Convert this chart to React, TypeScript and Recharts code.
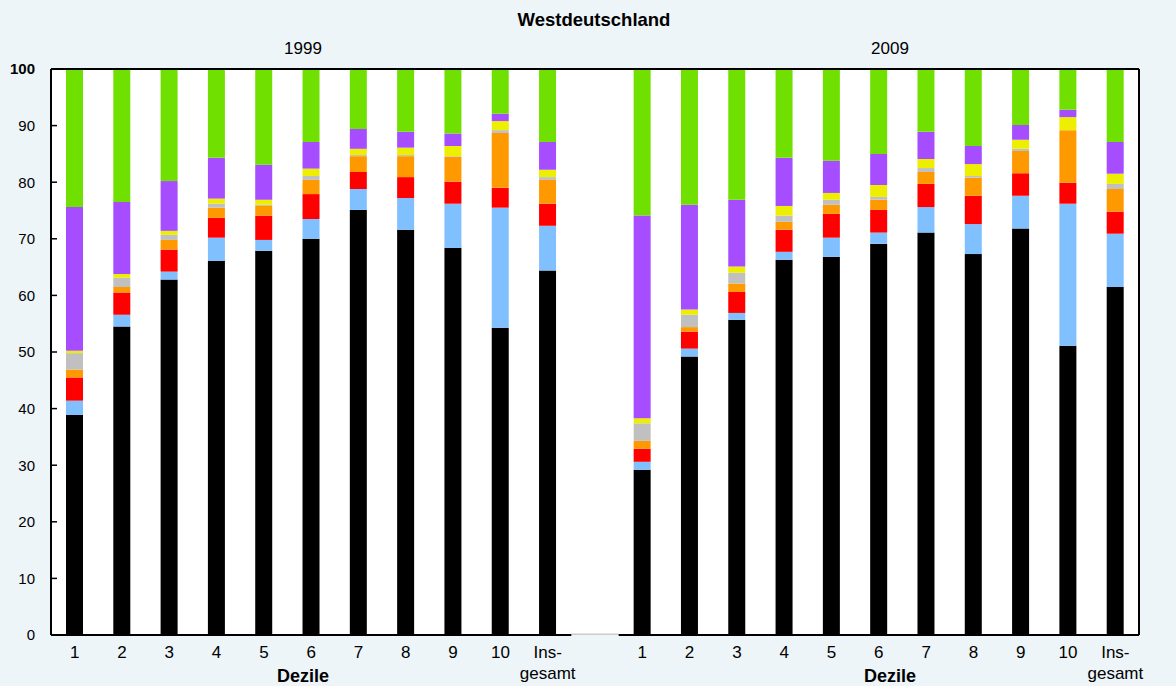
import React from 'react';
import { BarChart, Bar, XAxis, YAxis, CartesianGrid, ReferenceLine, ReferenceArea } from 'recharts';

const FONT = '"Liberation Sans", Arial, sans-serif';
const BG = '#edf5f9';

const years = ['1999', '2009'];
const deciles = ['1', '2', '3', '4', '5', '6', '7', '8', '9', '10', 'Ins-gesamt'];
const yTicks = [0, 10, 20, 30, 40, 50, 60, 70, 80, 90, 100];

// Anteile in %, erst die 11 Werte für 1999, dann die 11 für 2009
const black = [38.9, 54.5, 62.8, 66.1, 67.9, 70.0, 75.1, 71.6, 68.4, 54.3, 64.4,
  29.2, 49.2, 55.7, 66.3, 66.8, 69.1, 71.1, 67.3, 71.8, 51.1, 61.5];
const lightBlue = [2.5, 2.1, 1.4, 4.1, 1.9, 3.5, 3.7, 5.6, 7.8, 21.2, 7.9,
  1.4, 1.4, 1.2, 1.4, 3.4, 2.0, 4.5, 5.3, 5.8, 25.1, 9.4];
const red = [4.1, 3.9, 3.9, 3.5, 4.3, 4.4, 3.0, 3.7, 3.9, 3.5, 3.9,
  2.3, 3.0, 3.7, 3.9, 4.2, 4.0, 4.1, 5.0, 4.0, 3.7, 3.9];
const orange = [1.4, 1.0, 1.7, 1.8, 1.7, 2.5, 2.8, 3.7, 4.4, 9.7, 4.2,
  1.4, 0.8, 1.5, 1.4, 1.6, 1.8, 2.1, 3.2, 3.9, 9.3, 4.0];
const gray = [2.9, 1.6, 0.9, 0.7, 0.2, 0.7, 0.2, 0.2, 0.1, 0.5, 0.5,
  3.1, 2.2, 1.9, 1.1, 0.9, 0.5, 0.7, 0.3, 0.4, 0.0, 0.9];
const yellow = [0.4, 0.7, 0.7, 0.9, 0.9, 1.3, 1.1, 1.3, 1.8, 1.6, 1.3,
  0.9, 0.9, 1.1, 1.7, 1.2, 2.1, 1.6, 2.1, 1.6, 2.3, 1.8];
const purple = [25.4, 12.7, 8.8, 7.2, 6.2, 4.7, 3.5, 2.8, 2.2, 1.3, 4.9,
  35.8, 18.5, 11.8, 8.5, 5.7, 5.5, 4.8, 3.2, 2.6, 1.3, 5.6];
const green = [24.4, 23.5, 19.8, 15.7, 16.9, 12.9, 10.6, 11.1, 11.4, 7.9, 12.9,
  25.9, 24.0, 23.1, 15.7, 16.2, 15.0, 11.1, 13.6, 9.9, 7.2, 12.9];

const series = [
  { key: 'black', values: black, color: '#000000' },
  { key: 'lightBlue', values: lightBlue, color: '#80c0ff' },
  { key: 'red', values: red, color: '#ff0000' },
  { key: 'orange', values: orange, color: '#ff9900' },
  { key: 'gray', values: gray, color: '#c0c0c0' },
  { key: 'yellow', values: yellow, color: '#eeee00' },
  { key: 'purple', values: purple, color: '#a64dff' },
  { key: 'green', values: green, color: '#70e000' },
];

const labelByKey: Record<string, string> = { gap: '' };
const data: Record<string, any>[] = [];
years.forEach((year, yi) => {
  if (yi > 0) data.push({ key: 'gap' });
  deciles.forEach((d, di) => {
    const key = `${year}|${d}`;
    labelByKey[key] = d;
    const row: Record<string, any> = { key };
    series.forEach((s) => {
      row[s.key] = s.values[yi * deciles.length + di];
    });
    data.push(row);
  });
});

const firstKey = data[0].key;
const lastKey = data[data.length - 1].key;

function XTick({ x, y, payload }: any) {
  const label = labelByKey[payload.value] ?? '';
  if (label === 'Ins-gesamt') {
    return (
      <text x={x} y={y} textAnchor="middle" fontSize={17} fill="#000" fontFamily={FONT}>
        <tspan x={x} dy={15}>Ins-</tspan>
        <tspan x={x} dy={21}>gesamt</tspan>
      </text>
    );
  }
  return (
    <text x={x} y={y} dy={15} textAnchor="middle" fontSize={17} fill="#000" fontFamily={FONT}>
      {label}
    </text>
  );
}

function LeftTick({ x, y, payload }: any) {
  return (
    <g>
      <line x1={x + 16} x2={x + 22} y1={y} y2={y} stroke="#000" strokeWidth={1.5} />
      <text x={x} y={y} dy="0.36em" textAnchor="end" fontSize={15} fill="#000" fontFamily={FONT}
        fontWeight={payload.value === 100 ? 'bold' : 'normal'}>
        {payload.value}
      </text>
    </g>
  );
}

function RightTick({ x, y, payload }: any) {
  return (
    <g>
      <line x1={x - 22} x2={x - 16} y1={y} y2={y} stroke="#000" strokeWidth={1.5} />
      <text x={x} y={y} dy="0.36em" textAnchor="start" fontSize={15} fill="#000" fontFamily={FONT}
        fontWeight={payload.value === 100 ? 'bold' : 'normal'}>
        {payload.value}
      </text>
    </g>
  );
}

function Caption({ x, y, text, bold = false, size = 17 }: { x: number; y: number; text: string; bold?: boolean; size?: number }) {
  return (
    <div
      style={{
        position: 'absolute',
        left: x,
        top: y - size / 2,
        transform: 'translateX(-50%)',
        fontFamily: FONT,
        fontSize: size,
        lineHeight: `${size}px`,
        fontWeight: bold ? 'bold' : 'normal',
        whiteSpace: 'nowrap',
        color: '#000',
      }}
    >
      {text}
    </div>
  );
}

export default function App() {
  return (
    <div style={{ position: 'absolute', left: 0, top: 0, width: 1176, height: 686, background: BG, overflow: 'hidden' }}>
      <BarChart
        width={1176}
        height={686}
        data={data}
        margin={{ top: 69, right: 0, bottom: 0, left: 0 }}
        barSize={17}
      >
        <CartesianGrid horizontal={false} vertical={false} fill="#ffffff" />
        <XAxis dataKey="key" interval={0} height={51} axisLine={false} tickLine={false} tick={<XTick />} />
        <YAxis
          domain={[0, 100]}
          ticks={yTicks}
          width={51}
          tickSize={8}
          tickMargin={8}
          tickLine={false}
          axisLine={{ stroke: '#000', strokeWidth: 2 }}
          tick={<LeftTick />}
        />
        <YAxis
          yAxisId="right"
          orientation="right"
          domain={[0, 100]}
          ticks={yTicks}
          width={37}
          tickSize={8}
          tickMargin={8}
          tickLine={false}
          axisLine={{ stroke: '#000', strokeWidth: 2 }}
          tick={<RightTick />}
        />
        {series.map((s) => (
          <Bar key={s.key} dataKey={s.key} stackId="a" fill={s.color} isAnimationActive={false} />
        ))}
        <ReferenceArea x1="gap" x2="gap" y1={0} y2={0.25} fill="#cccccc" fillOpacity={1} stroke="none" />
        <ReferenceLine
          segment={[{ x: firstKey, y: 0 }, { x: 'gap', y: 0 }]}
          position="start"
          stroke="#000"
          strokeWidth={2}
        />
        <ReferenceLine
          segment={[{ x: 'gap', y: 0 }, { x: lastKey, y: 0 }]}
          position="end"
          stroke="#000"
          strokeWidth={2}
        />
        <ReferenceLine y={100} stroke="#000" strokeWidth={2} />
      </BarChart>
      <Caption x={594} y={20} text="Westdeutschland" bold size={18.5} />
      <Caption x={303} y={48} text={years[0]} />
      <Caption x={890} y={48} text={years[1]} />
      <Caption x={303} y={676} text="Dezile" bold size={18} />
      <Caption x={890} y={676} text="Dezile" bold size={18} />
    </div>
  );
}
